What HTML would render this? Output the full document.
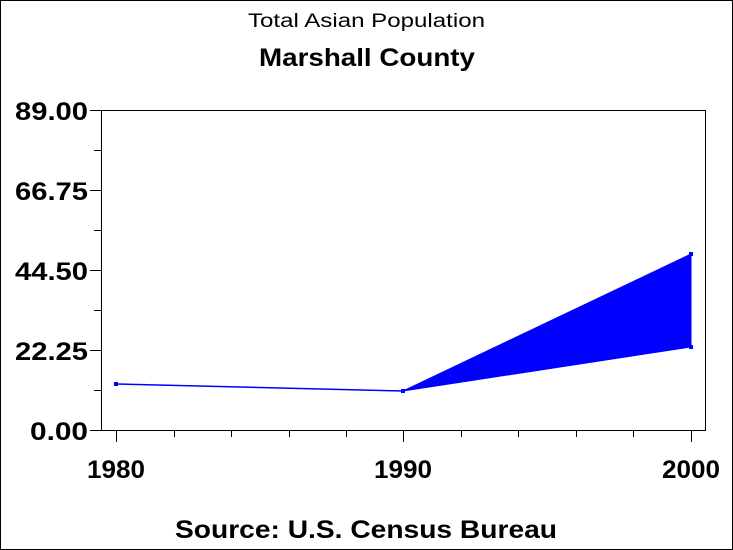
<!DOCTYPE html>
<html><head><style>
body{margin:0;background:#fff}
svg{display:block}
text{font-family:"Liberation Sans",Arial,sans-serif;fill:#000;font-weight:bold}
</style></head><body>
<svg width="733" height="550" viewBox="0 0 733 550" xmlns="http://www.w3.org/2000/svg">
<rect x="0.5" y="0.5" width="732" height="549" fill="#fff" stroke="#000"/>
<text x="248" y="27" font-size="19" style="font-weight:normal" textLength="237" lengthAdjust="spacingAndGlyphs">Total Asian Population</text>
<text x="259" y="66" font-size="25" textLength="216" lengthAdjust="spacingAndGlyphs">Marshall County</text>
<rect x="101.5" y="110.5" width="604" height="320" fill="none" stroke="#000"/>
<g stroke="#000" stroke-width="1">
<line x1="90" y1="110.5" x2="101" y2="110.5"/>
<line x1="90" y1="190.5" x2="101" y2="190.5"/>
<line x1="90" y1="270.5" x2="101" y2="270.5"/>
<line x1="90" y1="350.5" x2="101" y2="350.5"/>
<line x1="90" y1="430.5" x2="101" y2="430.5"/>
<line x1="94" y1="150.5" x2="101" y2="150.5"/>
<line x1="94" y1="230.5" x2="101" y2="230.5"/>
<line x1="94" y1="310.5" x2="101" y2="310.5"/>
<line x1="94" y1="390.5" x2="101" y2="390.5"/>
<line x1="116.5" y1="430" x2="116.5" y2="442"/>
<line x1="403.5" y1="430" x2="403.5" y2="442"/>
<line x1="691.5" y1="430" x2="691.5" y2="442"/>
<line x1="174.5" y1="430" x2="174.5" y2="437"/>
<line x1="231.5" y1="430" x2="231.5" y2="437"/>
<line x1="289.5" y1="430" x2="289.5" y2="437"/>
<line x1="346.5" y1="430" x2="346.5" y2="437"/>
<line x1="461.5" y1="430" x2="461.5" y2="437"/>
<line x1="518.5" y1="430" x2="518.5" y2="437"/>
<line x1="576.5" y1="430" x2="576.5" y2="437"/>
<line x1="633.5" y1="430" x2="633.5" y2="437"/>
</g>
<g font-size="25">
<text x="15" y="120" textLength="73" lengthAdjust="spacingAndGlyphs">89.00</text>
<text x="15" y="200" textLength="73" lengthAdjust="spacingAndGlyphs">66.75</text>
<text x="15" y="280" textLength="73" lengthAdjust="spacingAndGlyphs">44.50</text>
<text x="15" y="360" textLength="73" lengthAdjust="spacingAndGlyphs">22.25</text>
<text x="30" y="440" textLength="58" lengthAdjust="spacingAndGlyphs">0.00</text>
</g>
<g font-size="25">
<text x="87" y="478" textLength="58" lengthAdjust="spacingAndGlyphs">1980</text>
<text x="374" y="478" textLength="58" lengthAdjust="spacingAndGlyphs">1990</text>
<text x="662" y="478" textLength="58" lengthAdjust="spacingAndGlyphs">2000</text>
</g>
<polyline points="116,384 403,391" fill="none" stroke="#00f" stroke-width="1.5"/>
<polygon points="403,391 691,254 691,347" fill="#00f" stroke="#00f"/>
<rect x="114" y="382" width="4" height="4" fill="#00f"/>
<rect x="401" y="389" width="4" height="4" fill="#00f"/>
<rect x="689" y="252" width="4" height="4" fill="#00f"/>
<rect x="689" y="345" width="4" height="4" fill="#00f"/>
<text x="175" y="538" font-size="25" textLength="382" lengthAdjust="spacingAndGlyphs">Source: U.S. Census Bureau</text>
</svg>
</body></html>
